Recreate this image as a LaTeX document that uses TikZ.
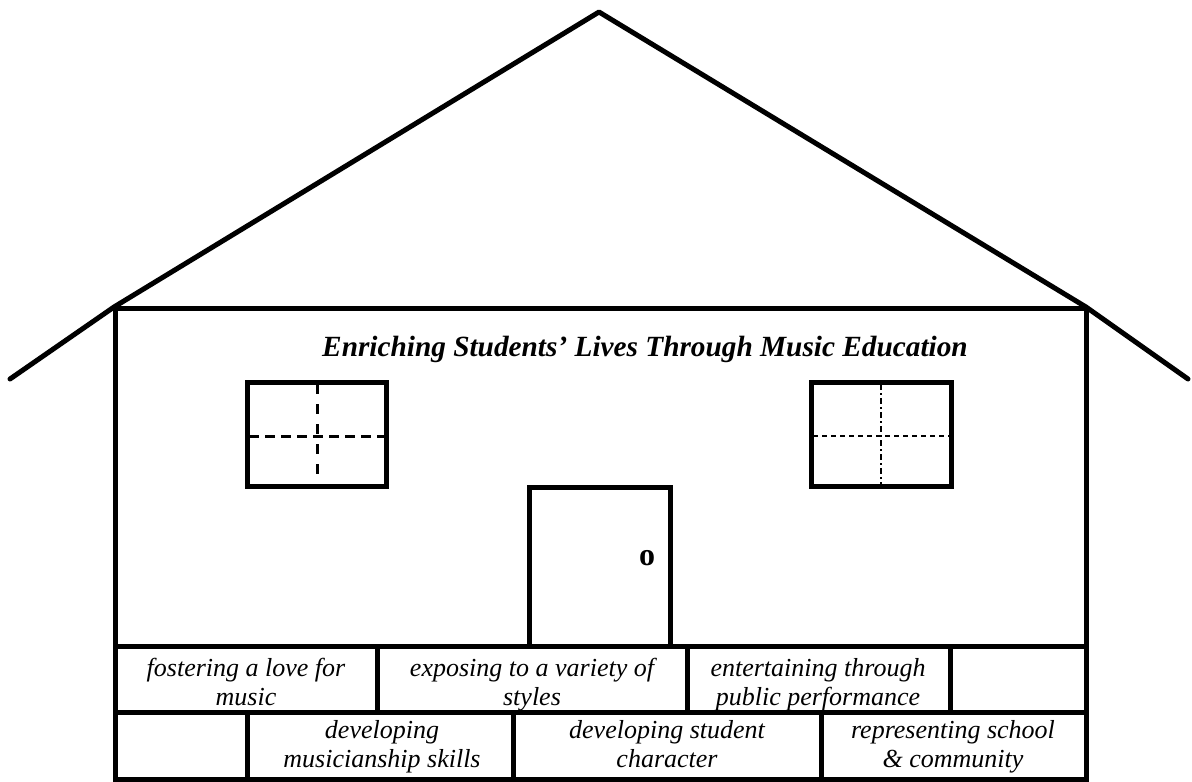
\documentclass[tikz,border=0pt]{standalone}
\usepackage{fontspec}
\setmainfont{Liberation Serif}
\begin{document}
\begin{tikzpicture}[x=1pt,y=-1pt,
  thick line/.style={line width=5pt},
  roofline/.style={line width=5pt,line cap=round,line join=round},
  frame/.style={line width=5pt,line join=miter},
  paneA/.style={line width=3pt},
  paneB/.style={line width=2.5pt},
  bricktext/.style={align=center,inner sep=0pt,font=\fontsize{26}{29}\selectfont\itshape},
  title/.style={inner sep=0pt,anchor=base,font=\fontsize{29.3}{33}\selectfont\bfseries\itshape},
  knob/.style={inner sep=0pt,font=\fontsize{32}{34}\selectfont\bfseries}]
\useasboundingbox (0,0) rectangle (1192,782);
% roof
\coordinate (eaveL) at (10,379);
\coordinate (cornerL) at (114,307);
\coordinate (apex) at (599,12);
\coordinate (cornerR) at (1086,307);
\coordinate (eaveR) at (1188,379);
\draw[roofline] (eaveL) -- (cornerL) -- (apex) -- (cornerR) -- (eaveR);
% wall
\draw[frame] (115,308) rectangle (1086,779);
% brick rows
\draw[thick line] (115,646) -- (1086,646);
\draw[thick line] (115,712) -- (1086,712);
\draw[thick line] (377,646) -- (377,712);
\draw[thick line] (687,646) -- (687,712);
\draw[thick line] (950,646) -- (950,712);
\draw[thick line] (247,712) -- (247,779);
\draw[thick line] (513,712) -- (513,779);
\draw[thick line] (821,712) -- (821,779);
% title
\node[title] (ttl) at (645,356) {Enriching Students’ Lives Through Music Education};
% left window
\draw[frame] (247,382) rectangle (386,486);
\draw[paneA,dash pattern=on 10pt off 10pt] (317,384) -- (317,484);
\draw[paneA,dash pattern=on 10pt off 6pt] (249,436) -- (384,436);
% right window
\draw[frame] (811,382) rectangle (951,486);
\draw[paneB,dash pattern=on 6pt off 3pt on 2pt off 3pt] (881,384) -- (881,484);
\draw[paneB,dash pattern=on 5pt off 4pt] (813,436) -- (949,436);
% door
\draw[frame] (529,646) -- (529,487) -- (670,487) -- (670,646);
\node[knob] (knb) at (647,558) {o};
% brick texts
\node[bricktext] (b1) at (246,685) {\strut fostering a love for\\\strut music};
\node[bricktext] (b2) at (532,685) {\strut exposing to a variety of\\\strut styles};
\node[bricktext] (b3) at (818,685) {\strut entertaining through\\\strut public performance};
\node[bricktext] (b4) at (382,747) {\strut developing\\\strut musicianship skills};
\node[bricktext] (b5) at (667,747) {\strut developing student\\\strut character};
\node[bricktext] (b6) at (953,747) {\strut representing school\\\strut \& community};
\end{tikzpicture}
\end{document}
